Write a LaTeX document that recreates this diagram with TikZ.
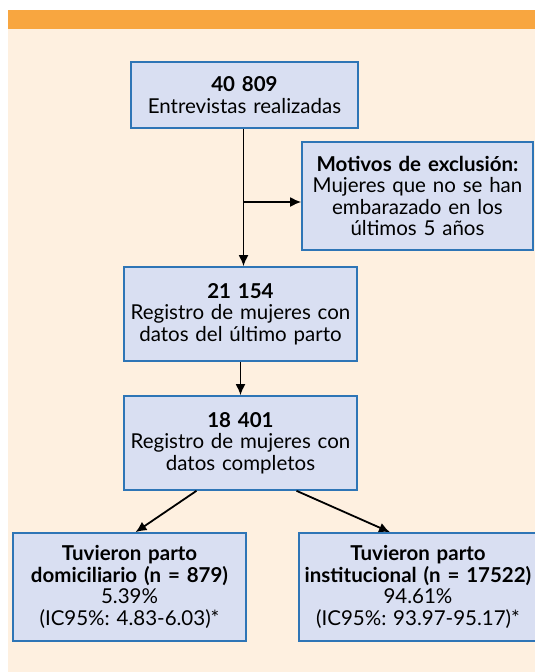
\documentclass[tikz,border=0pt]{standalone}
\usepackage{fontspec}
\setmainfont{Lato}
\frenchspacing
\usetikzlibrary{positioning,arrows.meta,calc,shapes}
\definecolor{pagecream}{HTML}{FEF0E0}
\definecolor{barorange}{HTML}{F8A640}
\definecolor{boxblue}{HTML}{2E75B6}
\definecolor{boxfill}{HTML}{D9DFF2}
\tikzset{
    x=1pt,
    y=-1pt,
    stage/.style = {
        draw=boxblue,
        fill=boxfill,
        shape=rectangle,
        line width=1.6pt,
        inner sep=0pt,
        align=center,
        font=\fontsize{20.5}{21.5}\selectfont
    },
    flow/.style = {
        draw,
        line width=1.8pt,
        -{Latex[length=11pt,width=10pt]}
    },
}

\begin{document}
\begin{tikzpicture}
            % page and band
            \useasboundingbox (0,0) rectangle (535,672);
            \fill[pagecream] (8,29) rectangle (535,672);
            \fill[barorange] (8,10) rectangle (535,29);

            \node[stage, text width=227, minimum height=66] (total) at (244.5,95) {\textbf{40 809}\\Entrevistas realizadas};
            \node[stage, text width=231, minimum height=108] (excl) at (417.5,196) {\textbf{Motivos de exclusión:}\\Mujeres que no se han\\embarazado en los\\últimos 5 años};
            \node[stage, text width=233, minimum height=94] (parto) at (240.5,314) {\textbf{21 154}\\Registro de mujeres con\\datos del último parto};
            \node[stage, text width=233, minimum height=94] (compl) at (240.5,443) {\textbf{18 401}\\Registro de mujeres con\\datos completos};
            \node[stage, text width=233, minimum height=108] (domic) at (129.5,587) {\textbf{Tuvieron parto}\\\textbf{domiciliario (n = 879)}\\5.39\%\\(IC95\%: 4.83-6.03)*};
            \node[stage, text width=238, minimum height=108] (instit) at (418,587) {\textbf{Tuvieron parto}\\\textbf{institucional (n = 17522)}\\94.61\%\\(IC95\%: 93.97-95.17)*};

            \path[flow] ([xshift=-1pt]total.south) -- ([xshift=3pt]parto.north);
            \path[flow] ([xshift=-1pt]total.south |- excl.west) ++(0,6) -- ([yshift=-6pt]excl.west);
            \path[flow] (parto.south) -- (compl.north);
            \path[flow] ([xshift=-44pt]compl.south) -- ([xshift=6pt]domic.north);
            \path[flow] ([xshift=56pt]compl.south) -- ([xshift=-28pt]instit.north);

        \end{tikzpicture}
\end{document}
